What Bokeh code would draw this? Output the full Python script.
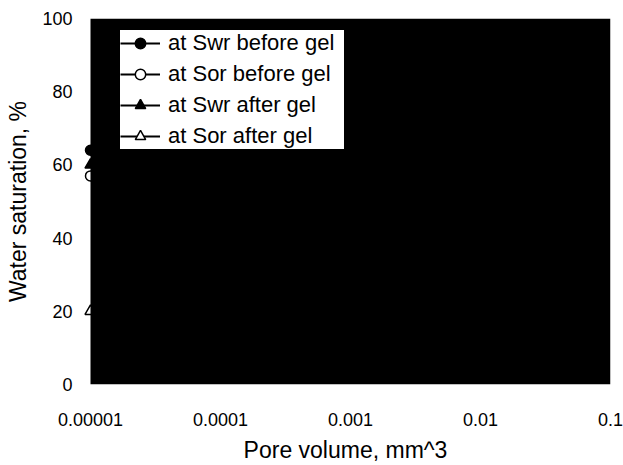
from bokeh.plotting import figure
from bokeh.models import (Range1d, FixedTicker, BoxAnnotation, Legend, LegendItem,
                          CustomJSTickFormatter)
from bokeh.embed import file_html
from bokeh.resources import INLINE

# Water saturation vs pore volume
pore_volume = [1e-5]
swr_before = [64]
sor_before = [57]
swr_after = [60]
sor_after = [20]

x_ticks = [1e-5, 1e-4, 1e-3, 1e-2, 1e-1]
x_tick_labels = ["0.00001", "0.0001", "0.001", "0.01", "0.1"]
y_ticks = [0, 20, 40, 60, 80, 100]

FONT = "Liberation Sans"

p = figure(width=623, height=465, x_axis_type="log",
           output_backend="svg", toolbar_location=None,
           x_range=Range1d(10 ** -5.0769, 0.1), y_range=Range1d(0, 100),
           min_border_left=80, min_border_right=13,
           min_border_top=18, min_border_bottom=77)
p.outline_line_color = None
p.grid.grid_line_color = None
p.background_fill_color = "white"
p.border_fill_color = "white"

series = [
    ("at Swr before gel", swr_before, "circle", "black", 10),
    ("at Sor before gel", sor_before, "circle", "white", 10),
    ("at Swr after gel", swr_after, "triangle", "black", 11),
    ("at Sor after gel", sor_after, "triangle", "white", 11),
]
items = []
for label, ys, marker, fill, size in series:
    ln = p.line(pore_volume, ys, line_color="black", line_width=2)
    sc = p.scatter(pore_volume, ys, marker=marker, size=size,
                   fill_color=fill, line_color="black", line_width=1.5)
    items.append(LegendItem(label=label, renderers=[ln, sc]))

# black plot area from the first decade on, drawn over the series
p.add_layout(BoxAnnotation(left=1e-5, fill_color="black", fill_alpha=1.0,
                           line_color=None, level="guide"))

legend = Legend(items=items, location=(40, 235),
                background_fill_color="white", background_fill_alpha=1.0,
                border_line_color=None, margin=0, padding=2, spacing=5,
                glyph_width=40, glyph_height=26, label_height=26,
                label_width=176, label_standoff=8, label_text_font=FONT,
                label_text_font_size="22px", label_text_color="black")
p.add_layout(legend, "center")

p.xaxis.ticker = FixedTicker(ticks=x_ticks)
p.xaxis.formatter = CustomJSTickFormatter(
    args=dict(decades=x_ticks, names=x_tick_labels),
    code="""
    let best = 0, d = Infinity;
    for (let k = 0; k < decades.length; k++) {
        const e = Math.abs(Math.log10(decades[k]) - Math.log10(tick));
        if (e < d) { d = e; best = k; }
    }
    return names[best];
    """)
p.yaxis.ticker = FixedTicker(ticks=y_ticks)

for ax in (p.xaxis, p.yaxis):
    ax.axis_line_color = None
    ax.major_tick_line_color = None
    ax.minor_tick_line_color = None
    ax.major_tick_in = 0
    ax.major_tick_out = 0
    ax.minor_tick_in = 0
    ax.minor_tick_out = 0
    ax.major_label_text_font = FONT
    ax.major_label_text_font_size = "18px"
    ax.major_label_text_color = "black"
    ax.axis_label_text_font = FONT
    ax.axis_label_text_font_size = "23px"
    ax.axis_label_text_font_style = "normal"
    ax.axis_label_text_color = "black"

p.xaxis.axis_label = "Pore volume, mm^3"
p.yaxis.axis_label = "Water saturation, %"
p.xaxis.major_label_standoff = 28
p.xaxis.axis_label_standoff = 8
p.yaxis.major_label_standoff = 8
p.yaxis.axis_label_standoff = 8

open("out.html", "w").write(file_html(p, INLINE))
